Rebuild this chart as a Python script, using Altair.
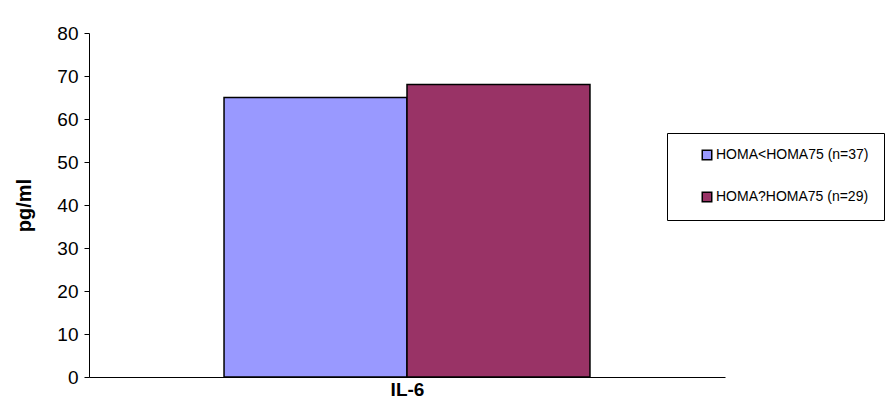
import altair as alt
import pandas as pd

category = ["IL-6", "IL-6"]
series = ["HOMA<HOMA75 (n=37)", "HOMA?HOMA75 (n=29)"]
values = [65, 68]
colors = ["#9999FF", "#993366"]

df = pd.DataFrame({"cat": category, "series": series, "value": values})

chart = alt.Chart(df).mark_bar(stroke="black", strokeWidth=1.5).encode(
    x=alt.X("cat:N", title="IL-6",
            scale=alt.Scale(paddingInner=0, paddingOuter=0.369),
            axis=alt.Axis(labels=False, ticks=False, domainColor="black",
                          titleFont="Arial", titleFontSize=19, titleFontWeight="bold",
                          titleColor="black", titlePadding=3)),
    xOffset=alt.XOffset("series:N", sort=series, scale=alt.Scale(paddingInner=0, paddingOuter=0)),
    y=alt.Y("value:Q", title="pg/ml",
            scale=alt.Scale(domain=[0, 80]),
            axis=alt.Axis(values=list(range(0, 81, 10)), grid=False, domainColor="black",
                          tickColor="black", tickSize=5, labelFont="Arial", labelFontSize=19,
                          labelColor="black", labelPadding=6,
                          titleFont="Arial", titleFontSize=20, titleFontWeight="bold",
                          titleColor="black", titlePadding=22)),
    color=alt.Color("series:N", sort=series,
                    scale=alt.Scale(domain=series, range=colors),
                    legend=alt.Legend(title=None, orient="none", legendX=578, legendY=100,
                                      symbolType="square", symbolSize=90,
                                      symbolStrokeColor="black", symbolStrokeWidth=1.5,
                                      symbolOffset=18, labelOffset=2,
                                      labelFont="Arial", labelFontSize=14, labelColor="black",
                                      labelExpr="datum.label + '                              '",
                                      rowPadding=26, padding=15, strokeColor="black",
                                      fillColor="white", cornerRadius=0, labelLimit=500)),
).properties(
    width=636, height=344,
    autosize=alt.AutoSizeParams(type="none"),
    padding={"left": 81, "top": 25, "right": 160, "bottom": 28},
).configure_view(stroke=None)

chart.save("out.html", embed_options={"renderer": "svg", "actions": False})
